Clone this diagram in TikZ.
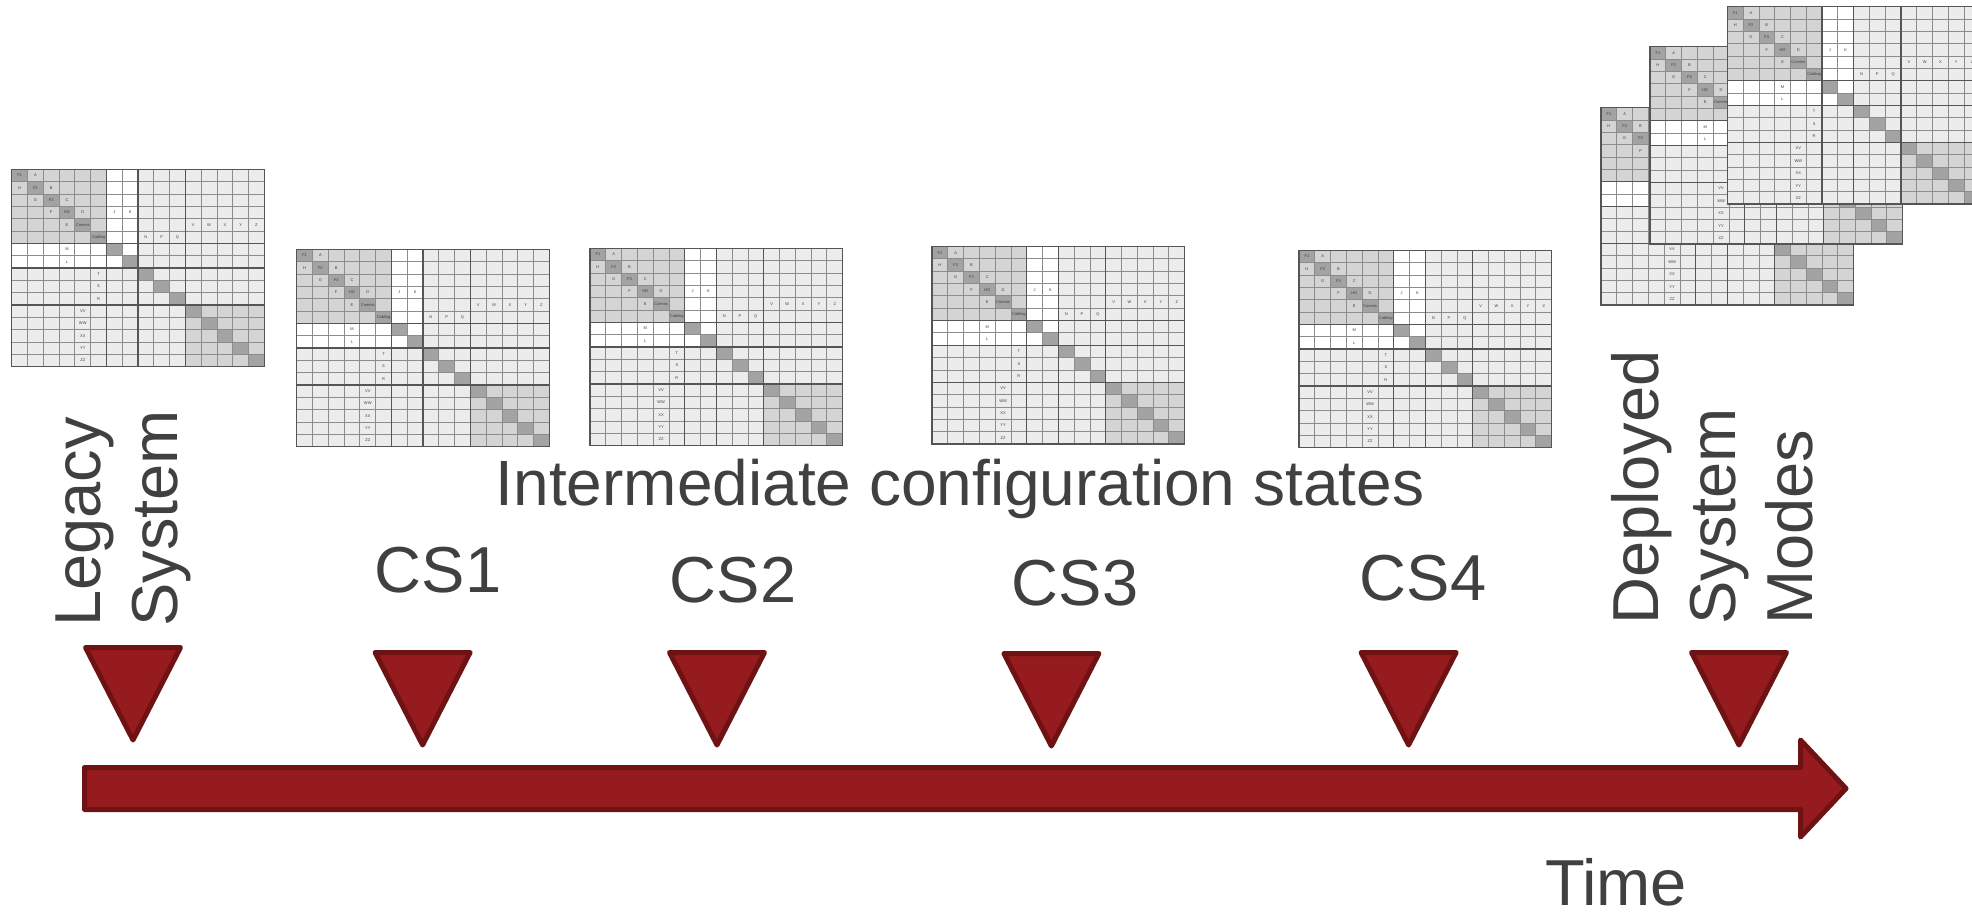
\documentclass[tikz,border=0pt]{standalone}
\usepackage{fontspec}
\setmainfont{Liberation Sans}
\definecolor{redfill}{HTML}{961B1E}
\definecolor{redline}{HTML}{6E1214}
\definecolor{txt}{HTML}{404040}
\definecolor{cellmid}{HTML}{D4D4D4}
\definecolor{celllight}{HTML}{ECECEC}
\definecolor{celldark}{HTML}{A3A3A3}
\definecolor{gridgray}{HTML}{8C8C8C}
\definecolor{gridbold}{HTML}{555555}

\tikzset{
  redshape/.style={fill=redfill, draw=redline, line width=5pt, line join=round},
  bigtext/.style={font=\fontsize{65}{77}\selectfont, text=txt, inner sep=0pt},
  celltext/.style={font=\fontsize{4}{4.5}\selectfont, text=txt, inner sep=0pt},
  gridthin/.style={draw=gridgray, line width=0.8pt},
  gridthick/.style={draw=gridbold, line width=1.4pt},
  milestone/.pic={\filldraw[redshape] (-47.5,2.5) -- (47.5,2.5) -- (0,95) -- cycle;}
}

% Design structure matrix: 16 x 16 cells, groups 1-6, 7-8, 9-11, 12-16
\newcommand\dsm[2]{%
  \begin{scope}[shift={(#2)}, x=15.79pt, y=-12.34pt]
    \fill[celllight] (0,0) rectangle (16,16);
    \fill[cellmid] (0,0) rectangle (6,6);
    \fill[white] (6,0) rectangle (8,8);
    \fill[white] (0,6) rectangle (6,8);
    \fill[cellmid] (11,11) rectangle (16,16);
    \foreach \k in {1,...,16} \fill[celldark] (\k-1,\k-1) rectangle (\k,\k);
    \foreach \k in {1,...,15} {
      \draw[gridthin] (\k,0) -- (\k,16);
      \draw[gridthin] (0,\k) -- (16,\k);
    }
    \foreach \k in {6,8,11} {
      \draw[gridthick] (\k,0) -- (\k,16);
      \draw[gridthick] (0,\k) -- (16,\k);
    }
    \draw[gridthick] (0,0) rectangle (16,16);
    \foreach \r/\c/\lbl in {1/1/F1, 1/2/A, 2/1/H, 2/2/F2, 2/3/B, 3/2/G, 3/3/F3, 3/4/C,
        4/3/F, 4/4/HO, 4/5/D, 4/7/J, 4/8/K, 5/4/E, 5/5/Comms,
        5/12/V, 5/13/W, 5/14/X, 5/15/Y, 5/16/Z, 6/6/Cabling, 6/9/N, 6/10/P, 6/11/Q,
        7/4/M, 8/4/L, 9/6/T, 10/6/S, 11/6/R,
        12/5/VV, 13/5/WW, 14/5/XX, 15/5/YY, 16/5/ZZ}
      \node[celltext] (#1-\r-\c) at (\c-0.5,\r-0.5) {\lbl};
  \end{scope}}

\begin{document}
\begin{tikzpicture}[x=1pt, y=-1pt]
  \useasboundingbox (0,0) rectangle (1972,913);
  \fill[white] (0,0) rectangle (1972,913);

  \begin{scope}
    \clip (0,0) rectangle (1972,913);
    % legacy system and intermediate states
    \dsm{legacy}{11.7,169.3}
    \dsm{csa}{296.7,249.3}
    \dsm{csb}{590,248.3}
    \dsm{csc}{932,246.5}
    \dsm{csd}{1299,250.3}
    % deployed modes, stacked
    \dsm{modec}{1601,107.7}
    \dsm{modeb}{1650,46.7}
    \dsm{modea}{1727.3,6.7}
  \end{scope}

  % time axis
  \filldraw[redshape] (84.5,767.5) -- (1800.5,767.5) -- (1800.5,740) -- (1846,788.5)
    -- (1800.5,837) -- (1800.5,809.5) -- (84.5,809.5) -- cycle;

  % milestones
  \pic (ms0) at (133,645) {milestone};
  \pic (ms1) at (422.6,650) {milestone};
  \pic (ms2) at (717,650) {milestone};
  \pic (ms3) at (1051.4,651) {milestone};
  \pic (ms4) at (1408.6,650) {milestone};
  \pic (ms5) at (1739,650) {milestone};

  % labels (the base anchor of a multi-line node sits on its last line)
  \node[bigtext, rotate=90, anchor=base west, align=left] (legacytxt) at (177,627) {Legacy\\System};
  \node[bigtext, rotate=90, anchor=base west, align=left] (deployedtxt) at (1812,625) {Deployed\\System\\Modes};
  \node[bigtext, font=\fontsize{64}{77}\selectfont, anchor=base] (inter) at (960,505) {Intermediate configuration states};
  \node[bigtext, anchor=base] (cs1) at (438,592) {CS1};
  \node[bigtext, anchor=base] (cs2) at (733,602) {CS2};
  \node[bigtext, anchor=base] (cs3) at (1075,605) {CS3};
  \node[bigtext, anchor=base] (cs4) at (1423,600) {CS4};
  \node[bigtext, anchor=base] (time) at (1616,905) {Time};
\end{tikzpicture}
\end{document}
